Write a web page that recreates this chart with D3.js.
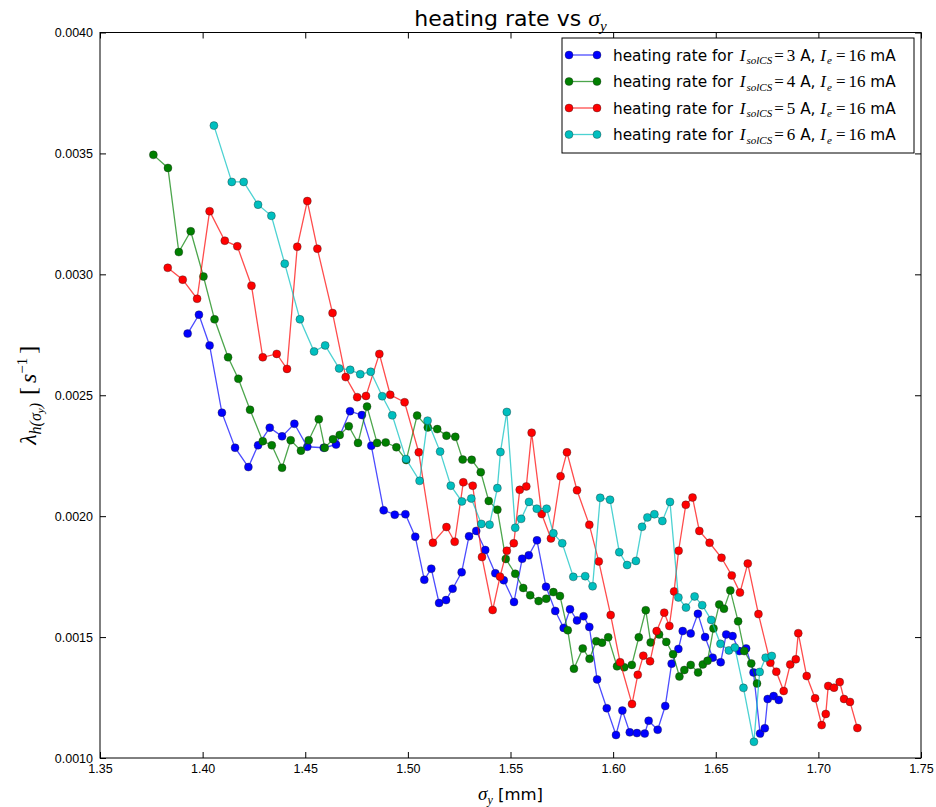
<!DOCTYPE html>
<html lang="en">
<head>
  <meta charset="UTF-8">
  <title>heating rate vs sigma_y</title>
  <script src="https://d3js.org/d3.v7.min.js"></script>
  <style>
    body { margin: 0; background: #fff; }
    svg { font-family: "DejaVu Sans", sans-serif; }
    .tick text { font-size: 12.5px; fill: #000; }
    .math { font-family: "Liberation Serif", "DejaVu Serif", serif; }
  </style>
</head>
<body>
  <div id="chart"></div>

  <script>
    // sigma_y [mm] and heating rate [1/s] for each solenoid current
    const sigma3 = [1.3927, 1.3982, 1.4034, 1.4094, 1.4158, 1.4223, 1.4270, 1.4327, 1.4387, 1.4447,
      1.4510, 1.4590, 1.4650, 1.4718, 1.4776, 1.4822, 1.4882, 1.4936, 1.4988, 1.5036,
      1.5080, 1.5114, 1.5152, 1.5186, 1.5218, 1.5262, 1.5298, 1.5333, 1.5377, 1.5426,
      1.5467, 1.5517, 1.5557, 1.5589, 1.5629, 1.5673, 1.5718, 1.5759, 1.5790, 1.5824,
      1.5856, 1.5884, 1.5922, 1.5969, 1.6014, 1.6045, 1.6081, 1.6116, 1.6154, 1.6173,
      1.6217, 1.6254, 1.6285, 1.6318, 1.6339, 1.6378, 1.6413, 1.6448, 1.6485, 1.6524,
      1.6551, 1.6582, 1.6615, 1.6648, 1.6684, 1.6716, 1.6739, 1.6753, 1.6782, 1.6807];
    const rate3 = [0.002755, 0.002833, 0.002706, 0.002428, 0.002283, 0.002203, 0.002293, 0.002366, 0.002330, 0.002382,
      0.002287, 0.002283, 0.002296, 0.002434, 0.002418, 0.002291, 0.002024, 0.002006, 0.002008, 0.001915,
      0.001737, 0.001783, 0.001641, 0.001653, 0.001700, 0.001768, 0.001917, 0.001939, 0.001860, 0.001764,
      0.001735, 0.001645, 0.001824, 0.001838, 0.001900, 0.001708, 0.001608, 0.001538, 0.001615, 0.001569,
      0.001586, 0.001542, 0.001325, 0.001206, 0.001095, 0.001196, 0.001106, 0.001103, 0.001101, 0.001154,
      0.001117, 0.001215, 0.001390, 0.001451, 0.001525, 0.001515, 0.001596, 0.001500, 0.001415, 0.001396,
      0.001511, 0.001504, 0.001442, 0.001453, 0.001354, 0.001101, 0.001123, 0.001244, 0.001256, 0.001240];

    const sigma4 = [1.3760, 1.3831, 1.3884, 1.3942, 1.4004, 1.4058, 1.4124, 1.4174, 1.4231, 1.4293,
      1.4337, 1.4387, 1.4429, 1.4479, 1.4517, 1.4566, 1.4595, 1.4635, 1.4668, 1.4712,
      1.4757, 1.4801, 1.4850, 1.4892, 1.4944, 1.4992, 1.5045, 1.5097, 1.5143, 1.5188,
      1.5231, 1.5267, 1.5311, 1.5355, 1.5394, 1.5436, 1.5477, 1.5523, 1.5562, 1.5596,
      1.5637, 1.5674, 1.5709, 1.5741, 1.5779, 1.5809, 1.5852, 1.5885, 1.5918, 1.5946,
      1.5976, 1.6019, 1.6054, 1.6091, 1.6125, 1.6159, 1.6183, 1.6224, 1.6259, 1.6292,
      1.6323, 1.6347, 1.6378, 1.6414, 1.6437, 1.6460, 1.6489, 1.6517, 1.6540, 1.6571,
      1.6609, 1.6639, 1.6673, 1.6701];
    const rate4 = [0.003494, 0.003440, 0.003092, 0.003178, 0.002991, 0.002814, 0.002657, 0.002568, 0.002440, 0.002310,
      0.002293, 0.002200, 0.002314, 0.002271, 0.002314, 0.002401, 0.002283, 0.002318, 0.002336, 0.002372,
      0.002303, 0.002453, 0.002303, 0.002305, 0.002285, 0.002232, 0.002416, 0.002367, 0.002360, 0.002333,
      0.002328, 0.002234, 0.002233, 0.002182, 0.002063, 0.002027, 0.001823, 0.001762, 0.001703, 0.001673,
      0.001649, 0.001659, 0.001686, 0.001670, 0.001528, 0.001369, 0.001453, 0.001410, 0.001483, 0.001477,
      0.001499, 0.001379, 0.001375, 0.001385, 0.001499, 0.001611, 0.001478, 0.001511, 0.001480, 0.001429,
      0.001337, 0.001364, 0.001385, 0.001354, 0.001387, 0.001402, 0.001536, 0.001635, 0.001617, 0.001693,
      0.001565, 0.001442, 0.001391, 0.001308];

    const sigma5 = [1.3830, 1.3903, 1.3973, 1.4034, 1.4108, 1.4169, 1.4238, 1.4293, 1.4361, 1.4411,
      1.4461, 1.4510, 1.4559, 1.4633, 1.4697, 1.4753, 1.4796, 1.4861, 1.4914, 1.4984,
      1.5053, 1.5122, 1.5188, 1.5228, 1.5270, 1.5316, 1.5361, 1.5413, 1.5449, 1.5482,
      1.5516, 1.5545, 1.5577, 1.5603, 1.5652, 1.5697, 1.5744, 1.5775, 1.5824, 1.5884,
      1.5930, 1.5988, 1.6034, 1.6092, 1.6120, 1.6147, 1.6180, 1.6212, 1.6249, 1.6274,
      1.6297, 1.6319, 1.6354, 1.6387, 1.6420, 1.6470, 1.6528, 1.6578, 1.6618, 1.6656,
      1.6708, 1.6766, 1.6795, 1.6831, 1.6863, 1.6890, 1.6902, 1.6943, 1.6984, 1.7016,
      1.7036, 1.7048, 1.7076, 1.7104, 1.7125, 1.7154, 1.7190];
    const rate5 = [0.003027, 0.002978, 0.002899, 0.003261, 0.003139, 0.003116, 0.002953, 0.002657, 0.002671, 0.002609,
      0.003114, 0.003303, 0.003106, 0.002840, 0.002575, 0.002492, 0.002497, 0.002671, 0.002502, 0.002471,
      0.002264, 0.001890, 0.001955, 0.001894, 0.002140, 0.002126, 0.001831, 0.001612, 0.001750, 0.001857,
      0.001888, 0.002109, 0.002123, 0.002345, 0.002009, 0.001908, 0.002165, 0.002264, 0.002107, 0.001964,
      0.001813, 0.001591, 0.001396, 0.001223, 0.001344, 0.001423, 0.001400, 0.001525, 0.001601, 0.001546,
      0.001689, 0.001857, 0.002047, 0.002077, 0.001939, 0.001890, 0.001828, 0.001755, 0.001684, 0.001804,
      0.001595, 0.001394, 0.001357, 0.001277, 0.001387, 0.001408, 0.001516, 0.001339, 0.001247, 0.001136,
      0.001182, 0.001298, 0.001291, 0.001314, 0.001244, 0.001232, 0.001124];

    const sigma6 = [1.4055, 1.4142, 1.4200, 1.4270, 1.4335, 1.4400, 1.4474, 1.4543, 1.4597, 1.4665,
      1.4719, 1.4768, 1.4819, 1.4875, 1.4924, 1.4991, 1.5057, 1.5096, 1.5157, 1.5209,
      1.5263, 1.5309, 1.5358, 1.5398, 1.5436, 1.5451, 1.5482, 1.5523, 1.5552, 1.5590,
      1.5628, 1.5676, 1.5709, 1.5752, 1.5806, 1.5864, 1.5900, 1.5937, 1.5985, 1.6030,
      1.6068, 1.6111, 1.6141, 1.6167, 1.6201, 1.6240, 1.6277, 1.6318, 1.6355, 1.6397,
      1.6434, 1.6478, 1.6523, 1.6564, 1.6593, 1.6635, 1.6686, 1.6714, 1.6743, 1.6773];
    const rate6 = [0.003615, 0.003382, 0.003382, 0.003288, 0.003242, 0.003044, 0.002814, 0.002681, 0.002706, 0.002611,
      0.002605, 0.002587, 0.002597, 0.002496, 0.002417, 0.002236, 0.002146, 0.002395, 0.002267, 0.002126,
      0.002061, 0.002073, 0.001968, 0.001965, 0.002116, 0.002265, 0.002431, 0.001952, 0.001989, 0.002059,
      0.002031, 0.002031, 0.001929, 0.001888, 0.001749, 0.001752, 0.001710, 0.002076, 0.002068, 0.001851,
      0.001798, 0.001815, 0.001956, 0.001995, 0.002008, 0.001980, 0.002059, 0.001664, 0.001622, 0.001668,
      0.001632, 0.001571, 0.001472, 0.001445, 0.001457, 0.001290, 0.001067, 0.001356, 0.001415, 0.001422];

    const currents = ["3", "4", "5", "6"];
    const colors = ["#0000ff", "#008000", "#ff0000", "#00bfbf"];
    const xTicks = [1.35, 1.40, 1.45, 1.50, 1.55, 1.60, 1.65, 1.70, 1.75];
    const yTicks = [0.0010, 0.0015, 0.0020, 0.0025, 0.0030, 0.0035, 0.0040];

    const series = [
      { xs: sigma3, ys: rate3 },
      { xs: sigma4, ys: rate4 },
      { xs: sigma5, ys: rate5 },
      { xs: sigma6, ys: rate6 }
    ].map((s, i) => ({
      cur: currents[i],
      color: colors[i],
      points: s.xs.map((x, j) => ({ x: x, y: s.ys[j] }))
    }));

    const W = 936, H = 807;
    const margin = { top: 32.5, right: 15, bottom: 49, left: 100 },
          width = W - margin.left - margin.right,
          height = H - margin.top - margin.bottom;

    const root = d3.select("#chart")
      .append("svg")
      .attr("width", W)
      .attr("height", H);

    const svg = root.append("g")
      .attr("transform", `translate(${margin.left},${margin.top})`);

    const x = d3.scaleLinear().domain([1.35, 1.75]).range([0, width]);
    const y = d3.scaleLinear().domain([0.0010, 0.0040]).range([height, 0]);

    // axes, ticks pointing inwards on all four sides
    const tickLen = 6;
    svg.append("g")
      .attr("transform", `translate(0,${height})`)
      .call(d3.axisBottom(x).tickValues(xTicks).tickFormat(d3.format(".2f"))
        .tickSizeInner(-tickLen).tickSizeOuter(0).tickPadding(6));
    svg.append("g")
      .call(d3.axisTop(x).tickValues(xTicks).tickFormat("")
        .tickSizeInner(-tickLen).tickSizeOuter(0));
    svg.append("g")
      .call(d3.axisLeft(y).tickValues(yTicks).tickFormat(d3.format(".4f"))
        .tickSizeInner(-tickLen).tickSizeOuter(0).tickPadding(7));
    svg.append("g")
      .attr("transform", `translate(${width},0)`)
      .call(d3.axisRight(y).tickValues(yTicks).tickFormat("")
        .tickSizeInner(-tickLen).tickSizeOuter(0));
    svg.selectAll(".domain").remove();
    svg.selectAll(".tick line").attr("stroke", "#000");

    const line = d3.line().x(d => x(d.x)).y(d => y(d.y));

    const groups = svg.selectAll(".series")
      .data(series)
      .enter()
      .append("g")
      .attr("class", "series");

    groups.append("path")
      .attr("d", d => line(d.points))
      .attr("fill", "none")
      .attr("stroke", d => d.color)
      .attr("stroke-opacity", 0.7)
      .attr("stroke-width", 1.3);

    groups.each(function (s) {
      d3.select(this).selectAll("circle")
        .data(s.points)
        .enter()
        .append("circle")
        .attr("cx", d => x(d.x))
        .attr("cy", d => y(d.y))
        .attr("r", 4)
        .attr("fill", s.color)
        .attr("stroke", "#222")
        .attr("stroke-opacity", 0.6)
        .attr("stroke-width", 0.6);
    });

    // frame
    svg.append("rect")
      .attr("width", width)
      .attr("height", height)
      .attr("fill", "none")
      .attr("stroke", "#000")
      .attr("stroke-width", 1);

    // legend
    const lg = svg.append("g").attr("transform", `translate(${562 - margin.left},${38 - margin.top})`);
    lg.append("rect")
      .attr("width", 352)
      .attr("height", 115)
      .attr("fill", "#fff")
      .attr("stroke", "#000")
      .attr("stroke-width", 1);

    const rows = lg.selectAll(".row")
      .data(series)
      .enter()
      .append("g")
      .attr("class", "row")
      .attr("transform", (d, i) => `translate(0,${17 + i * 26.5})`);

    rows.append("line")
      .attr("x1", 7).attr("x2", 35)
      .attr("stroke", d => d.color)
      .attr("stroke-opacity", 0.7)
      .attr("stroke-width", 1.3);
    rows.selectAll("circle")
      .data(d => [7, 35].map(cx => ({ cx: cx, color: d.color })))
      .enter()
      .append("circle")
      .attr("cx", d => d.cx)
      .attr("r", 4)
      .attr("fill", d => d.color)
      .attr("stroke", "#222")
      .attr("stroke-opacity", 0.6)
      .attr("stroke-width", 0.6);

    const txt = rows.append("text")
      .attr("x", 51)
      .attr("y", 5.5)
      .attr("font-size", 15.3);
    txt.append("tspan").text("heating rate for ");
    txt.append("tspan").attr("class", "math").attr("font-style", "italic").attr("font-size", 17).attr("dx", 2).text("I");
    txt.append("tspan").attr("class", "math").attr("font-style", "italic").attr("font-size", 11).attr("dy", 3.5).attr("dx", 1).text("solCS");
    txt.append("tspan").attr("class", "math").attr("font-size", 17).attr("dy", -3.5).attr("dx", 2).text("=");
    txt.append("tspan").attr("class", "math").attr("font-size", 17).attr("dx", 3).text(d => d.cur);
    txt.append("tspan").text(" A, ");
    txt.append("tspan").attr("class", "math").attr("font-style", "italic").attr("font-size", 17).text("I");
    txt.append("tspan").attr("class", "math").attr("font-style", "italic").attr("font-size", 11).attr("dy", 3.5).attr("dx", 1).text("e");
    txt.append("tspan").attr("class", "math").attr("font-size", 17).attr("dy", -3.5).attr("dx", 4).text("=");
    txt.append("tspan").attr("class", "math").attr("font-size", 17).attr("dx", 3).text("16");
    txt.append("tspan").text(" mA");

    // title
    const title = root.append("text")
      .attr("x", margin.left + width / 2)
      .attr("y", 26)
      .attr("text-anchor", "middle")
      .attr("font-size", 22);
    title.append("tspan").text("heating rate vs ");
    title.append("tspan").attr("class", "math").attr("font-style", "italic").attr("font-size", 24).text("σ");
    title.append("tspan").attr("class", "math").attr("font-style", "italic").attr("font-size", 15).attr("dy", 5).text("y");

    // x label
    const xl = root.append("text")
      .attr("x", margin.left + width / 2)
      .attr("y", 800)
      .attr("text-anchor", "middle")
      .attr("font-size", 16.5);
    xl.append("tspan").attr("class", "math").attr("font-style", "italic").attr("font-size", 19).text("σ");
    xl.append("tspan").attr("class", "math").attr("font-style", "italic").attr("font-size", 12).attr("dy", 4).text("y");
    xl.append("tspan").attr("dy", -4).text(" [mm]");

    // y label
    const yl = root.append("text")
      .attr("transform", `translate(36,${margin.top + height / 2}) rotate(-90)`)
      .attr("text-anchor", "middle")
      .attr("class", "math")
      .attr("font-size", 24);
    yl.append("tspan").attr("font-style", "italic").text("λ");
    yl.append("tspan").attr("font-style", "italic").attr("font-size", 16).attr("dy", 5).text("h(");
    yl.append("tspan").attr("font-style", "italic").attr("font-size", 16).text("σ");
    yl.append("tspan").attr("font-style", "italic").attr("font-size", 11).attr("dy", 3).text("y");
    yl.append("tspan").attr("font-style", "italic").attr("font-size", 16).attr("dy", -3).text(")");
    yl.append("tspan").attr("dy", -5).attr("dx", 8).text("[");
    yl.append("tspan").attr("font-style", "italic").attr("dx", 4).text("s");
    yl.append("tspan").attr("font-size", 15).attr("dy", -9).text("−1");
    yl.append("tspan").attr("dy", 9).attr("dx", 4).text("]");
  </script>
</body>
</html>
